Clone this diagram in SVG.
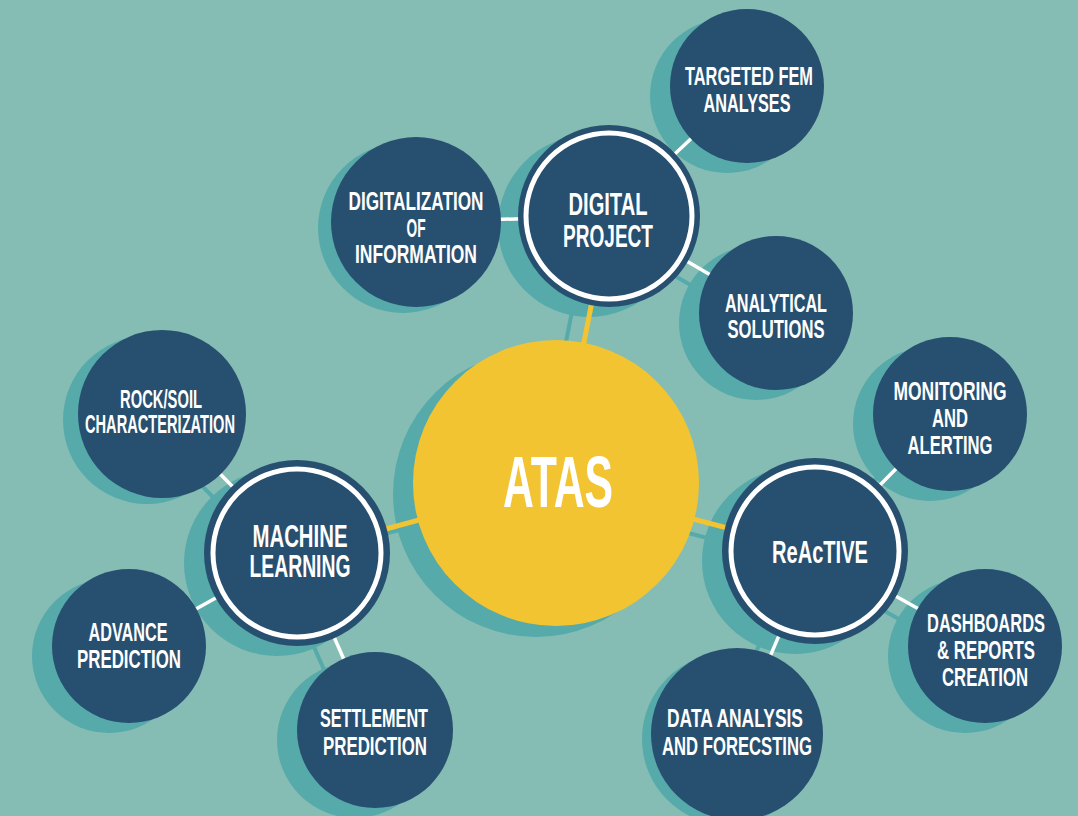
<svg xmlns="http://www.w3.org/2000/svg" width="1078" height="816" viewBox="0 0 1078 816">
<style>
.bg{fill:#85BDB5}
.sh{fill:#56AAAA}
.shl{stroke:#56AAAA;stroke-width:4;fill:none}
.wl{stroke:#FFFFFF;stroke-width:3.5;fill:none}
.yl{stroke:#F3C431;stroke-width:5;fill:none}
.node{fill:#274F70}
.ring{fill:none;stroke:#FFFFFF;stroke-width:5}
.core{fill:#F3C431}
text{font-family:"Liberation Sans Narrow","Liberation Sans",Arial,sans-serif;fill:#FFFFFF;text-anchor:middle;font-weight:bold}
.s{font-size:26px}
.h{font-size:32px}
.c{font-size:72px}
</style>
<rect class="bg" x="0" y="0" width="1078" height="816"/>
<g id="shadows">
<circle class="sh" cx="536" cy="494" r="143"/>
<circle class="sh" cx="589" cy="226" r="91"/>
<circle class="sh" cx="277" cy="563" r="93"/>
<circle class="sh" cx="795" cy="561" r="93"/>
<circle class="sh" cx="403" cy="228" r="85"/>
<circle class="sh" cx="727" cy="96" r="77"/>
<circle class="sh" cx="756" cy="323" r="77"/>
<circle class="sh" cx="930" cy="424" r="77"/>
<circle class="sh" cx="965" cy="656" r="77"/>
<circle class="sh" cx="728" cy="739" r="86"/>
<circle class="sh" cx="355" cy="740" r="78"/>
<circle class="sh" cx="109" cy="656" r="77"/>
<circle class="sh" cx="147" cy="420" r="84"/>
</g>
<g id="connectors">
<g id="connector-shadows">
<line class="shl" x1="536" y1="493" x2="589" y2="226"/>
<line class="shl" x1="536" y1="493" x2="277" y2="563"/>
<line class="shl" x1="536" y1="493" x2="795" y2="561"/>
<line class="shl" x1="589" y1="226" x2="396" y2="232"/>
<line class="shl" x1="589" y1="226" x2="727" y2="96"/>
<line class="shl" x1="589" y1="226" x2="756" y2="323"/>
<line class="shl" x1="277" y1="563" x2="142" y2="424"/>
<line class="shl" x1="277" y1="563" x2="109" y2="656"/>
<line class="shl" x1="277" y1="563" x2="355" y2="740"/>
<line class="shl" x1="795" y1="561" x2="930" y2="424"/>
<line class="shl" x1="795" y1="561" x2="965" y2="656"/>
<line class="shl" x1="795" y1="561" x2="717" y2="743"/>
</g>
<line class="yl" x1="556" y1="483" x2="609" y2="216"/>
<line class="yl" x1="556" y1="483" x2="297" y2="553"/>
<line class="yl" x1="556" y1="483" x2="815" y2="551"/>
<line class="wl" x1="609" y1="216" x2="416" y2="222"/>
<line class="wl" x1="609" y1="216" x2="747" y2="86"/>
<line class="wl" x1="609" y1="216" x2="776" y2="313"/>
<line class="wl" x1="297" y1="553" x2="162" y2="414"/>
<line class="wl" x1="297" y1="553" x2="129" y2="646"/>
<line class="wl" x1="297" y1="553" x2="375" y2="730"/>
<line class="wl" x1="815" y1="551" x2="950" y2="414"/>
<line class="wl" x1="815" y1="551" x2="985" y2="646"/>
<line class="wl" x1="815" y1="551" x2="737" y2="734"/>
</g>
<g id="atas">
<circle class="core" cx="556" cy="483" r="143"/>
<text class="c" x="558" y="507" textLength="110" lengthAdjust="spacingAndGlyphs">ATAS</text>
</g>
<g id="digital-project">
<circle class="node" cx="609" cy="216" r="91"/>
<circle class="ring" cx="609" cy="216" r="83"/>
<text class="h" x="608" y="215" textLength="79" lengthAdjust="spacingAndGlyphs">DIGITAL</text>
<text class="h" x="608" y="247" textLength="90" lengthAdjust="spacingAndGlyphs">PROJECT</text>
</g>
<g id="machine-learning">
<circle class="node" cx="297" cy="553" r="93"/>
<circle class="ring" cx="297" cy="553" r="84"/>
<text class="h" x="300" y="547" textLength="95" lengthAdjust="spacingAndGlyphs">MACHINE</text>
<text class="h" x="300" y="577" textLength="101" lengthAdjust="spacingAndGlyphs">LEARNING</text>
</g>
<g id="reactive">
<circle class="node" cx="815" cy="551" r="93"/>
<circle class="ring" cx="815" cy="551" r="84"/>
<text class="h" x="820" y="563" textLength="96" lengthAdjust="spacingAndGlyphs">ReAcTIVE</text>
</g>
<g id="digitalization">
<circle class="node" cx="416" cy="222" r="85"/>
<text class="s" x="416" y="210" textLength="135" lengthAdjust="spacingAndGlyphs">DIGITALIZATION</text>
<text class="s" x="416" y="237" textLength="19" lengthAdjust="spacingAndGlyphs">OF</text>
<text class="s" x="416" y="263" textLength="122" lengthAdjust="spacingAndGlyphs">INFORMATION</text>
</g>
<g id="targeted-fem">
<circle class="node" cx="747" cy="86" r="77"/>
<text class="s" x="749" y="85" textLength="128" lengthAdjust="spacingAndGlyphs">TARGETED FEM</text>
<text class="s" x="747" y="112" textLength="87" lengthAdjust="spacingAndGlyphs">ANALYSES</text>
</g>
<g id="analytical-solutions">
<circle class="node" cx="776" cy="313" r="77"/>
<text class="s" x="776" y="312" textLength="102" lengthAdjust="spacingAndGlyphs">ANALYTICAL</text>
<text class="s" x="776" y="338" textLength="97" lengthAdjust="spacingAndGlyphs">SOLUTIONS</text>
</g>
<g id="monitoring">
<circle class="node" cx="950" cy="414" r="77"/>
<text class="s" x="950" y="400" textLength="113" lengthAdjust="spacingAndGlyphs">MONITORING</text>
<text class="s" x="950" y="427" textLength="36" lengthAdjust="spacingAndGlyphs">AND</text>
<text class="s" x="950" y="454" textLength="85" lengthAdjust="spacingAndGlyphs">ALERTING</text>
</g>
<g id="dashboards">
<circle class="node" cx="985" cy="646" r="77"/>
<text class="s" x="986" y="632" textLength="118" lengthAdjust="spacingAndGlyphs">DASHBOARDS</text>
<text class="s" x="986" y="659" textLength="98" lengthAdjust="spacingAndGlyphs">&amp; REPORTS</text>
<text class="s" x="985" y="686" textLength="86" lengthAdjust="spacingAndGlyphs">CREATION</text>
</g>
<g id="data-analysis">
<circle class="node" cx="737" cy="734" r="86"/>
<text class="s" x="735" y="727" textLength="136" lengthAdjust="spacingAndGlyphs">DATA ANALYSIS</text>
<text class="s" x="737" y="755" textLength="150" lengthAdjust="spacingAndGlyphs">AND FORECSTING</text>
</g>
<g id="settlement">
<circle class="node" cx="375" cy="730" r="78"/>
<text class="s" x="374" y="727" textLength="108" lengthAdjust="spacingAndGlyphs">SETTLEMENT</text>
<text class="s" x="375" y="755" textLength="104" lengthAdjust="spacingAndGlyphs">PREDICTION</text>
</g>
<g id="advance-prediction">
<circle class="node" cx="129" cy="646" r="77"/>
<text class="s" x="128" y="641" textLength="79" lengthAdjust="spacingAndGlyphs">ADVANCE</text>
<text class="s" x="129" y="668" textLength="104" lengthAdjust="spacingAndGlyphs">PREDICTION</text>
</g>
<g id="rock-soil">
<circle class="node" cx="162" cy="414" r="84"/>
<text class="s" x="161" y="408" textLength="82" lengthAdjust="spacingAndGlyphs">ROCK/SOIL</text>
<text class="s" x="160" y="433" textLength="150" lengthAdjust="spacingAndGlyphs">CHARACTERIZATION</text>
</g>
</svg>
